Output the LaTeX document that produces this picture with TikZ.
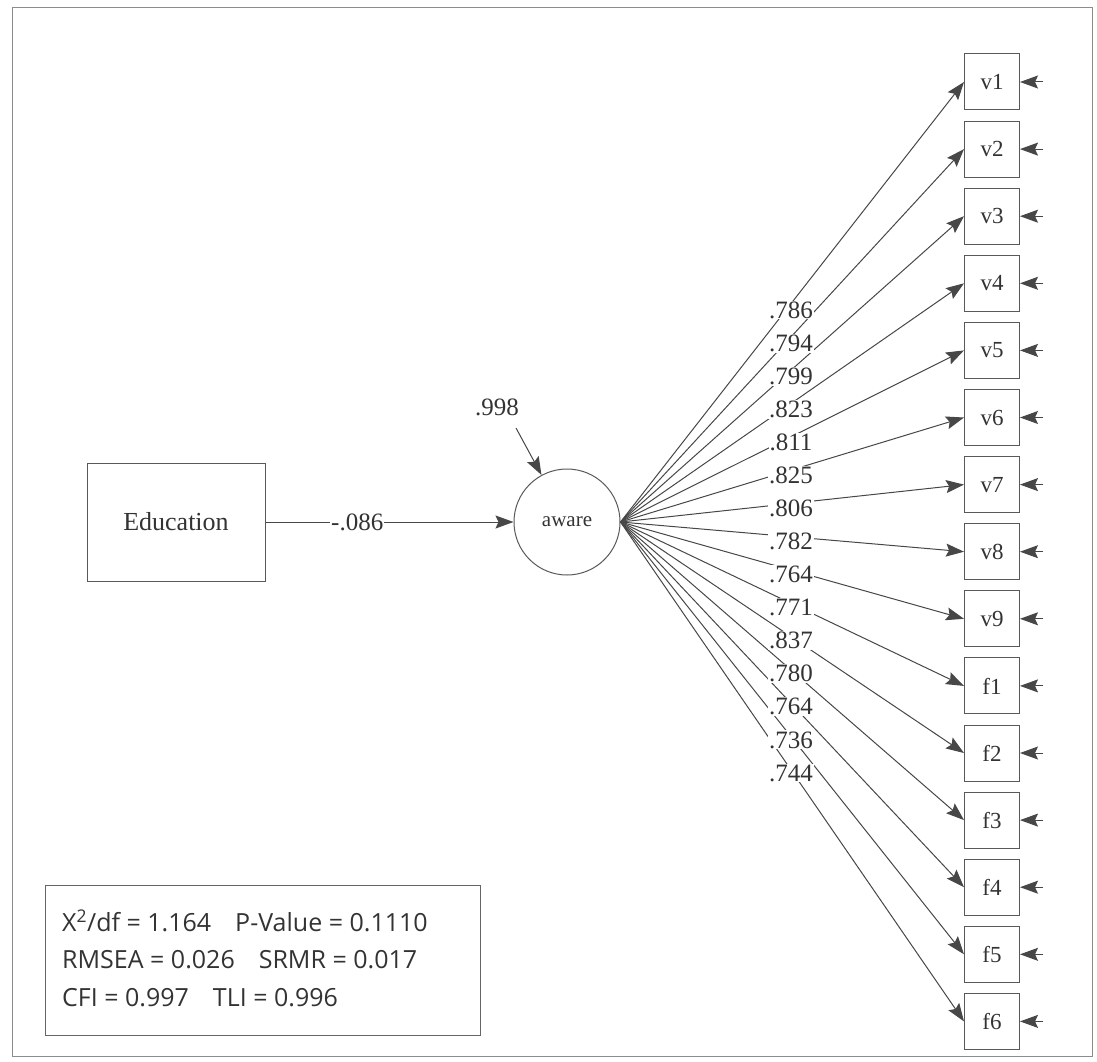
\documentclass[tikz,border=0pt]{standalone}
\usepackage{fontspec}
\setmainfont{Liberation Serif}
\newfontfamily\statfont{Open Sans}
\usetikzlibrary{arrows.meta}
\begin{document}
\begin{tikzpicture}[x=1pt,y=-1pt,
  ln/.style={draw=black!72, line width=1pt},
  arr/.style={ln,-{Stealth[length=18pt,width=13pt,inset=3pt]}},
  obs/.style={draw=black!65, line width=1pt, minimum width=55pt, minimum height=56pt, font=\fontsize{23}{25}\selectfont, inner sep=0pt, text=black!80},
  lab/.style={fill=white, inner sep=1pt, font=\fontsize{25}{27}\selectfont, text=black!80},
]
\useasboundingbox (0,0) rectangle (1097,1062);
\draw[black!45, line width=1pt] (12,8) rectangle (1092,1056);
\node[obs, minimum width=178pt, minimum height=118pt, font=\fontsize{26}{28}\selectfont] (edu) at (176,522) {Education};
\node[circle, draw=black!65, line width=1pt, minimum size=106pt, font=\fontsize{21}{23}\selectfont, inner sep=0pt, text=black!80] (aware) at (567,522) {aware};
\draw[arr] (edu.east) -- (aware.west) node[lab, pos=0.37] (g) {-.086};
\coordinate (e0) at (516,428);
\node[font=\fontsize{25}{27}\selectfont, text=black!80] (r0) at (497,407) {.998};
\draw[arr] (e0) -- (aware);
\foreach \nm [count=\i from 0] in {v1,v2,v3,v4,v5,v6,v7,v8,v9,f1,f2,f3,f4,f5,f6}{
  \node[obs] (\nm) at (992,{82+67.1*\i}) {\nm};
  \coordinate (e\nm) at (1043,{82+67.1*\i});
  \draw[arr] (e\nm) -- (\nm.east);
  \draw[arr] (aware.east) -- (\nm.west);
}
\foreach \v [count=\i from 0] in {.786,.794,.799,.823,.811,.825,.806,.782,.764,.771,.837,.780,.764,.736,.744}{
  \node[lab] (l\i) at (791,{310+33.07*\i}) {\v};
}
\node[draw=black!60, line width=1pt, minimum width=435pt, minimum height=150pt, inner sep=0pt] (statbox) at (262.5,960) {};
\node[anchor=west, align=left, font=\statfont\fontsize{25}{37.5}\selectfont, text=black!80, inner sep=0pt] (stats) at (62,958)
{X\textsuperscript{2}/df = 1.164\hspace{24pt}P-Value = 0.1110\\
RMSEA = 0.026\hspace{24pt}SRMR = 0.017\\
CFI = 0.997\hspace{24pt}TLI = 0.996};
\end{tikzpicture}
\end{document}
